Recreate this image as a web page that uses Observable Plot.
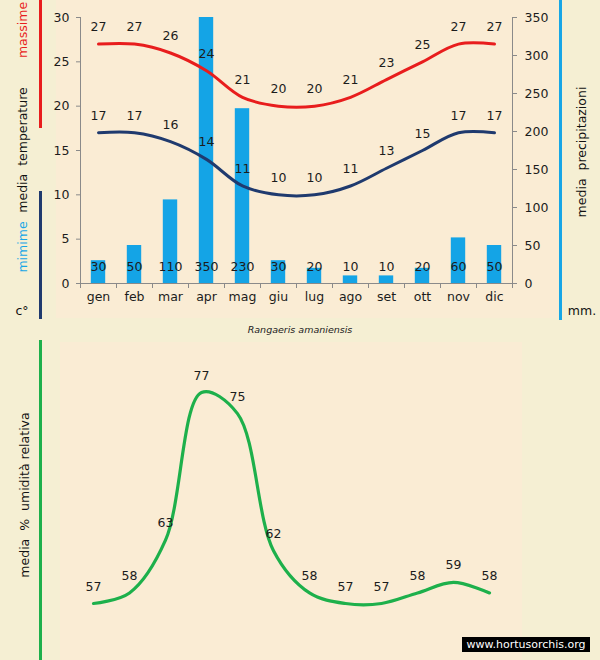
<!DOCTYPE html>
<html>
<head>
<meta charset="utf-8">
<script src="https://cdn.jsdelivr.net/npm/d3@7"></script>
<script src="https://cdn.jsdelivr.net/npm/@observablehq/plot@0.6"></script>
<style>
  html, body { margin: 0; padding: 0; background: #f5efd3; }
  #wrap { position: relative; width: 600px; height: 660px; overflow: hidden; background: #f5efd3; font-family: "DejaVu Sans", Verdana, sans-serif; }
  .panel { position: absolute; background: #faecd4; }
  .vbar { position: absolute; width: 3px; }
  .vtext { position: absolute; white-space: pre; transform: translate(-50%, -50%) rotate(-90deg); font-size: 12.5px; }
  .htext { position: absolute; white-space: nowrap; font-size: 12.5px; width: 40px; height: 16px; line-height: 16px; text-align: center; }
  .plot { position: absolute; left: 0; }
  #caption { position: absolute; left: 0; width: 600px; top: 324px; text-align: center; font-style: italic; font-size: 9.5px; color: #222; }
  #wm { position: absolute; left: 462px; top: 637px; width: 128px; height: 15px; background: #000; color: #fff; font-size: 11px; line-height: 15px; text-align: center; white-space: nowrap; }
</style>
</head>
<body>
<div id="wrap">
  <div class="panel" style="left:56px; top:0; width:502px; height:318px;"></div>
  <div class="panel" style="left:60px; top:342px; width:462px; height:318px;"></div>

  <div class="vbar" style="left:39px; top:0; height:128px; background:#e81d1d;"></div>
  <div class="vbar" style="left:39px; top:191px; height:128px; background:#1f3a6e;"></div>
  <div class="vbar" style="left:559px; top:0; height:320px; background:#17a6e6;"></div>
  <div class="vbar" style="left:39px; top:340px; height:320px; background:#1db04b;"></div>

  <div class="vtext" style="left:22px; top:30px; color:#e81d1d;">massime</div>
  <div class="vtext" style="left:22px; top:150px; color:#111;">media  temperature</div>
  <div class="vtext" style="left:22px; top:247px; color:#17a6e6;">mimime</div>
  <div class="htext" style="left:2px; top:303px; color:#111;">c°</div>
  <div class="vtext" style="left:581px; top:152px; color:#111;">media  precipitazioni</div>
  <div class="htext" style="left:562px; top:303px; color:#111;">mm.</div>
  <div class="vtext" style="left:24px; top:495px; color:#111;">media  %  umidità relativa</div>

  <div id="topChart" class="plot" style="top:0;"></div>
  <div id="caption">Rangaeris amaniensis</div>
  <div id="bottomChart" class="plot" style="top:342px;"></div>
  <div id="wm">www.hortusorchis.org</div>
</div>
<script>
const months = ["gen","feb","mar","apr","mag","giu","lug","ago","set","ott","nov","dic"];
const tempMax = [27,27,26,24,21,20,20,21,23,25,27,27];
const tempMin = [17,17,16,14,11,10,10,11,13,15,17,17];
const precip = [30,50,110,350,230,30,20,10,10,20,60,50];
const humidity = [57,58,63,77,75,62,58,57,57,58,59,58];
const tempTicks = [0,5,10,15,20,25,30];
const precipTicks = [0,50,100,150,200,250,300,350];

const k = 30 / 350; // precipitation -> temperature axis units
const rows = months.map((m, i) => ({
  m, i, c: i + 0.5,
  tmax: tempMax[i], tmin: tempMin[i], p: precip[i], ps: precip[i] * k, h: humidity[i]
}));

const font = '"DejaVu Sans", Verdana, sans-serif';
const ink = "#1c1c1c";
const axisColor = "#8a8a8a";

const topPlot = Plot.plot({
  width: 600, height: 318,
  marginLeft: 80, marginRight: 88, marginTop: 17, marginBottom: 35,
  style: { background: "transparent", fontFamily: font, fontSize: "12px", color: ink },
  x: { domain: [0, 12], axis: null, label: null },
  y: { domain: [0, 30], axis: null, label: null },
  marks: [
    Plot.rectY(rows, { x1: d => d.c - 0.2, x2: d => d.c + 0.2, y1: 0, y2: "ps", fill: "#14a4e6" }),
    Plot.ruleX([0, 12], { stroke: axisColor }),
    Plot.ruleY([0], { stroke: axisColor }),
    Plot.axisY(tempTicks, { anchor: "left", label: null, tickSize: 4, tickPadding: 7, stroke: axisColor, fill: ink, fontSize: 12.5 }),
    Plot.axisY(precipTicks.map(p => p * k), { anchor: "right", label: null, tickSize: 4, tickPadding: 8, stroke: axisColor, fill: ink, fontSize: 12.5, tickFormat: d => Math.round(d / k) }),
    Plot.axisX(d3.range(0, 13), { anchor: "bottom", label: null, tickSize: 5, tickFormat: () => "", stroke: axisColor }),
    Plot.text(rows, { x: "c", frameAnchor: "bottom", dy: 17, text: "m", fill: ink, fontSize: 12.5 }),
    Plot.line(rows, { x: "c", y: "tmax", curve: "catmull-rom", stroke: "#e81d1d", strokeWidth: 3 }),
    Plot.line(rows, { x: "c", y: "tmin", curve: "catmull-rom", stroke: "#1f3a6e", strokeWidth: 3 }),
    Plot.text(rows, { x: "c", y: "tmax", dy: -17, text: "tmax", fill: ink, fontSize: 12.5 }),
    Plot.text(rows, { x: "c", y: "tmin", dy: -17, text: "tmin", fill: ink, fontSize: 12.5 }),
    Plot.text(rows, { x: "c", frameAnchor: "bottom", dy: -13, text: "p", fill: ink, fontSize: 12.5 })
  ]
});
document.getElementById("topChart").appendChild(topPlot);

const bottomPlot = Plot.plot({
  width: 600, height: 318,
  marginLeft: 75, marginRight: 93, marginTop: 50, marginBottom: 57,
  style: { background: "transparent", fontFamily: font, fontSize: "12px", color: ink },
  x: { domain: [0, 12], axis: null, label: null },
  y: { domain: [57, 77], axis: null, label: null },
  marks: [
    Plot.line(rows, { x: "c", y: "h", curve: "catmull-rom", stroke: "#1db04b", strokeWidth: 3.2 }),
    Plot.text(rows, { x: "c", y: "h", dy: -17, text: "h", fill: ink, fontSize: 12.5 })
  ]
});
document.getElementById("bottomChart").appendChild(bottomPlot);
</script>
</body>
</html>
